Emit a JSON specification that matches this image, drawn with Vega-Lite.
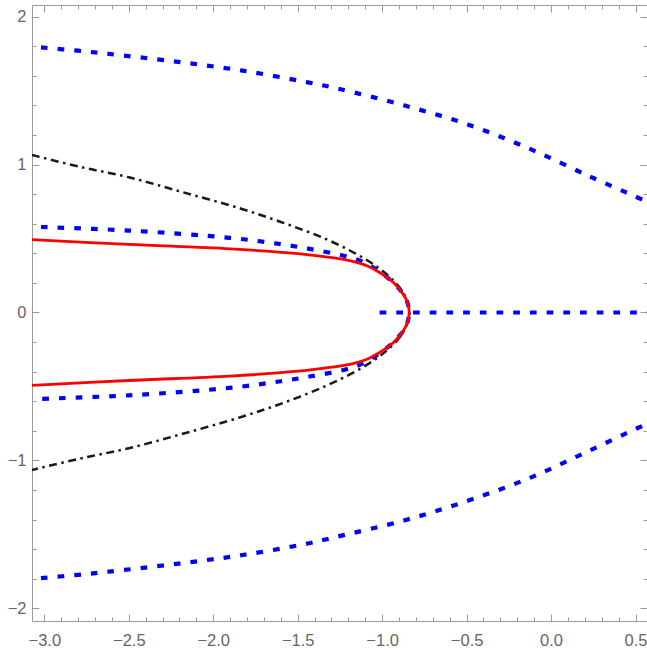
{
  "$schema": "https://vega.github.io/schema/vega-lite/v6.json",
  "width": 615,
  "height": 616,
  "autosize": "none",
  "padding": {"left": 32, "top": 5, "right": 0, "bottom": 29},
  "background": "white",
  "config": {
    "view": {"stroke": "#9a9a9a", "strokeWidth": 1},
    "axis": {"grid": false, "domain": false, "labelFont": "Liberation Sans", "labelFontSize": 16.5, "labelColor": "#666666", "tickColor": "#9a9a9a", "tickWidth": 1, "title": null}
  },
  "datasets": {
    "curves": [
      {"s": "k", "g": "k", "i": 1, "x": -3.073, "y": 1.065},
      {"s": "k", "g": "k", "i": 2, "x": -2.79, "y": 0.985},
      {"s": "k", "g": "k", "i": 3, "x": -2.5, "y": 0.914},
      {"s": "k", "g": "k", "i": 4, "x": -2.18, "y": 0.813},
      {"s": "k", "g": "k", "i": 5, "x": -1.83, "y": 0.7},
      {"s": "k", "g": "k", "i": 6, "x": -1.57, "y": 0.6},
      {"s": "k", "g": "k", "i": 7, "x": -1.34, "y": 0.5},
      {"s": "k", "g": "k", "i": 8, "x": -1.16, "y": 0.4},
      {"s": "k", "g": "k", "i": 9, "x": -1.02, "y": 0.3},
      {"s": "k", "g": "k", "i": 10, "x": -0.92, "y": 0.2},
      {"s": "k", "g": "k", "i": 11, "x": -0.86, "y": 0.1},
      {"s": "k", "g": "k", "i": 12, "x": -0.838, "y": 0},
      {"s": "k", "g": "k", "i": 13, "x": -0.86, "y": -0.1},
      {"s": "k", "g": "k", "i": 14, "x": -0.92, "y": -0.2},
      {"s": "k", "g": "k", "i": 15, "x": -1.02, "y": -0.3},
      {"s": "k", "g": "k", "i": 16, "x": -1.16, "y": -0.4},
      {"s": "k", "g": "k", "i": 17, "x": -1.34, "y": -0.5},
      {"s": "k", "g": "k", "i": 18, "x": -1.57, "y": -0.605},
      {"s": "k", "g": "k", "i": 19, "x": -1.83, "y": -0.705},
      {"s": "k", "g": "k", "i": 20, "x": -2.18, "y": -0.82},
      {"s": "k", "g": "k", "i": 21, "x": -2.5, "y": -0.918},
      {"s": "k", "g": "k", "i": 22, "x": -2.79, "y": -0.988},
      {"s": "k", "g": "k", "i": 23, "x": -3.073, "y": -1.065},

      {"s": "b", "g": "bu", "i": 1, "x": -3.02, "y": 1.792},
      {"s": "b", "g": "bu", "i": 2, "x": -2.8, "y": 1.77},
      {"s": "b", "g": "bu", "i": 3, "x": -2.617, "y": 1.748},
      {"s": "b", "g": "bu", "i": 4, "x": -2.22, "y": 1.696},
      {"s": "b", "g": "bu", "i": 5, "x": -1.826, "y": 1.635},
      {"s": "b", "g": "bu", "i": 6, "x": -1.44, "y": 1.556},
      {"s": "b", "g": "bu", "i": 7, "x": -1.252, "y": 1.511},
      {"s": "b", "g": "bu", "i": 8, "x": -0.866, "y": 1.399},
      {"s": "b", "g": "bu", "i": 9, "x": -0.49, "y": 1.27},
      {"s": "b", "g": "bu", "i": 10, "x": -0.125, "y": 1.106},
      {"s": "b", "g": "bu", "i": 11, "x": 0.231, "y": 0.919},
      {"s": "b", "g": "bu", "i": 12, "x": 0.499, "y": 0.784},
      {"s": "b", "g": "bu", "i": 13, "x": 0.568, "y": 0.749},

      {"s": "b", "g": "bl", "i": 1, "x": -3.02, "y": -1.796},
      {"s": "b", "g": "bl", "i": 2, "x": -2.8, "y": -1.774},
      {"s": "b", "g": "bl", "i": 3, "x": -2.617, "y": -1.752},
      {"s": "b", "g": "bl", "i": 4, "x": -2.22, "y": -1.7},
      {"s": "b", "g": "bl", "i": 5, "x": -1.826, "y": -1.64},
      {"s": "b", "g": "bl", "i": 6, "x": -1.44, "y": -1.562},
      {"s": "b", "g": "bl", "i": 7, "x": -1.267, "y": -1.516},
      {"s": "b", "g": "bl", "i": 8, "x": -0.866, "y": -1.405},
      {"s": "b", "g": "bl", "i": 9, "x": -0.49, "y": -1.272},
      {"s": "b", "g": "bl", "i": 10, "x": -0.125, "y": -1.118},
      {"s": "b", "g": "bl", "i": 11, "x": 0.231, "y": -0.932},
      {"s": "b", "g": "bl", "i": 12, "x": 0.496, "y": -0.79},
      {"s": "b", "g": "bl", "i": 13, "x": 0.568, "y": -0.754},

      {"s": "b", "g": "bi", "i": 1, "x": -3.02, "y": 0.578},
      {"s": "b", "g": "bi", "i": 2, "x": -2.498, "y": 0.554},
      {"s": "b", "g": "bi", "i": 3, "x": -1.905, "y": 0.505},
      {"s": "b", "g": "bi", "i": 4, "x": -1.6, "y": 0.462},
      {"s": "b", "g": "bi", "i": 5, "x": -1.43, "y": 0.43},
      {"s": "b", "g": "bi", "i": 6, "x": -1.233, "y": 0.385},
      {"s": "b", "g": "bi", "i": 7, "x": -1.13, "y": 0.35},
      {"s": "b", "g": "bi", "i": 8, "x": -1.055, "y": 0.306},
      {"s": "b", "g": "bi", "i": 9, "x": -0.984, "y": 0.25},
      {"s": "b", "g": "bi", "i": 10, "x": -0.932, "y": 0.2},
      {"s": "b", "g": "bi", "i": 11, "x": -0.892, "y": 0.15},
      {"s": "b", "g": "bi", "i": 12, "x": -0.863, "y": 0.1},
      {"s": "b", "g": "bi", "i": 13, "x": -0.846, "y": 0.05},
      {"s": "b", "g": "bi", "i": 14, "x": -0.84, "y": 0},
      {"s": "b", "g": "bi", "i": 15, "x": -0.846, "y": -0.05},
      {"s": "b", "g": "bi", "i": 16, "x": -0.863, "y": -0.1},
      {"s": "b", "g": "bi", "i": 17, "x": -0.892, "y": -0.15},
      {"s": "b", "g": "bi", "i": 18, "x": -0.932, "y": -0.2},
      {"s": "b", "g": "bi", "i": 19, "x": -0.984, "y": -0.25},
      {"s": "b", "g": "bi", "i": 20, "x": -1.055, "y": -0.306},
      {"s": "b", "g": "bi", "i": 21, "x": -1.13, "y": -0.352},
      {"s": "b", "g": "bi", "i": 22, "x": -1.233, "y": -0.39},
      {"s": "b", "g": "bi", "i": 23, "x": -1.43, "y": -0.433},
      {"s": "b", "g": "bi", "i": 24, "x": -1.6, "y": -0.465},
      {"s": "b", "g": "bi", "i": 25, "x": -1.905, "y": -0.51},
      {"s": "b", "g": "bi", "i": 26, "x": -2.498, "y": -0.56},
      {"s": "b", "g": "bi", "i": 27, "x": -3.02, "y": -0.584},

      {"s": "b", "g": "bh", "i": 1, "x": -1.015, "y": 0},
      {"s": "b", "g": "bh", "i": 2, "x": 0.568, "y": 0},

      {"s": "r", "g": "r", "i": 1, "x": -3.073, "y": 0.493},
      {"s": "r", "g": "r", "i": 2, "x": -2.5, "y": 0.46},
      {"s": "r", "g": "r", "i": 3, "x": -1.9, "y": 0.43},
      {"s": "r", "g": "r", "i": 4, "x": -1.5, "y": 0.398},
      {"s": "r", "g": "r", "i": 5, "x": -1.31, "y": 0.373},
      {"s": "r", "g": "r", "i": 6, "x": -1.2, "y": 0.353},
      {"s": "r", "g": "r", "i": 7, "x": -1.14, "y": 0.336},
      {"s": "r", "g": "r", "i": 8, "x": -1.08, "y": 0.311},
      {"s": "r", "g": "r", "i": 9, "x": -1.03, "y": 0.281},
      {"s": "r", "g": "r", "i": 10, "x": -0.978, "y": 0.243},
      {"s": "r", "g": "r", "i": 11, "x": -0.93, "y": 0.2},
      {"s": "r", "g": "r", "i": 12, "x": -0.892, "y": 0.15},
      {"s": "r", "g": "r", "i": 13, "x": -0.863, "y": 0.1},
      {"s": "r", "g": "r", "i": 14, "x": -0.846, "y": 0.05},
      {"s": "r", "g": "r", "i": 15, "x": -0.84, "y": 0},
      {"s": "r", "g": "r", "i": 16, "x": -0.846, "y": -0.05},
      {"s": "r", "g": "r", "i": 17, "x": -0.863, "y": -0.1},
      {"s": "r", "g": "r", "i": 18, "x": -0.892, "y": -0.15},
      {"s": "r", "g": "r", "i": 19, "x": -0.93, "y": -0.2},
      {"s": "r", "g": "r", "i": 20, "x": -0.978, "y": -0.243},
      {"s": "r", "g": "r", "i": 21, "x": -1.03, "y": -0.281},
      {"s": "r", "g": "r", "i": 22, "x": -1.08, "y": -0.311},
      {"s": "r", "g": "r", "i": 23, "x": -1.14, "y": -0.336},
      {"s": "r", "g": "r", "i": 24, "x": -1.2, "y": -0.352},
      {"s": "r", "g": "r", "i": 25, "x": -1.31, "y": -0.371},
      {"s": "r", "g": "r", "i": 26, "x": -1.5, "y": -0.397},
      {"s": "r", "g": "r", "i": 27, "x": -1.9, "y": -0.43},
      {"s": "r", "g": "r", "i": 28, "x": -2.5, "y": -0.46},
      {"s": "r", "g": "r", "i": 29, "x": -3.073, "y": -0.493}
    ]
  },
  "data": {"name": "curves"},
  "resolve": {"axis": {"x": "independent", "y": "independent"}},
  "layer": [
    {
      "mark": {"type": "point", "opacity": 0},
      "encoding": {
        "x": {"field": "x", "type": "quantitative", "scale": {"domain": [-3.073, 0.568], "nice": false, "zero": false}, "axis": {"orient": "bottom", "values": [-3, -2.5, -2, -1.5, -1, -0.5, 0, 0.5], "format": ".1f", "ticks": false, "labelPadding": 11}},
        "y": {"field": "y", "type": "quantitative", "scale": {"domain": [-2.086, 2.079], "nice": false, "zero": false}, "axis": {"orient": "left", "values": [-2, -1, 0, 1, 2], "format": "d", "ticks": false, "labelPadding": 6}}
      }
    },
    {
      "mark": {"type": "point", "opacity": 0},
      "encoding": {
        "x": {"field": "x", "type": "quantitative", "axis": {"orient": "bottom", "values": [-3, -2.5, -2, -1.5, -1, -0.5, 0, 0.5], "labels": false, "tickSize": -7}},
        "y": {"field": "y", "type": "quantitative", "axis": {"orient": "left", "values": [-2, -1, 0, 1, 2], "labels": false, "tickSize": -7}}
      }
    },
    {
      "mark": {"type": "point", "opacity": 0},
      "encoding": {
        "x": {"field": "x", "type": "quantitative", "axis": {"orient": "bottom", "values": [-3, -2.9, -2.8, -2.7, -2.6, -2.5, -2.4, -2.3, -2.2, -2.1, -2, -1.9, -1.8, -1.7, -1.6, -1.5, -1.4, -1.3, -1.2, -1.1, -1, -0.9, -0.8, -0.7, -0.6, -0.5, -0.4, -0.3, -0.2, -0.1, 0, 0.1, 0.2, 0.3, 0.4, 0.5], "labels": false, "tickSize": -4}},
        "y": {"field": "y", "type": "quantitative", "axis": {"orient": "left", "values": [-2, -1.8, -1.6, -1.4, -1.2, -1, -0.8, -0.6, -0.4, -0.2, 0, 0.2, 0.4, 0.6, 0.8, 1, 1.2, 1.4, 1.6, 1.8, 2], "labels": false, "tickSize": -4}}
      }
    },
    {
      "mark": {"type": "point", "opacity": 0},
      "encoding": {
        "x": {"field": "x", "type": "quantitative", "axis": {"orient": "top", "values": [-3, -2.5, -2, -1.5, -1, -0.5, 0, 0.5], "labels": false, "tickSize": -7}},
        "y": {"field": "y", "type": "quantitative", "axis": {"orient": "right", "values": [-2, -1, 0, 1, 2], "labels": false, "tickSize": -7}}
      }
    },
    {
      "mark": {"type": "point", "opacity": 0},
      "encoding": {
        "x": {"field": "x", "type": "quantitative", "axis": {"orient": "top", "values": [-3, -2.9, -2.8, -2.7, -2.6, -2.5, -2.4, -2.3, -2.2, -2.1, -2, -1.9, -1.8, -1.7, -1.6, -1.5, -1.4, -1.3, -1.2, -1.1, -1, -0.9, -0.8, -0.7, -0.6, -0.5, -0.4, -0.3, -0.2, -0.1, 0, 0.1, 0.2, 0.3, 0.4, 0.5], "labels": false, "tickSize": -4}},
        "y": {"field": "y", "type": "quantitative", "axis": {"orient": "right", "values": [-2, -1.8, -1.6, -1.4, -1.2, -1, -0.8, -0.6, -0.4, -0.2, 0, 0.2, 0.4, 0.6, 0.8, 1, 1.2, 1.4, 1.6, 1.8, 2], "labels": false, "tickSize": -4}}
      }
    },
    {
      "transform": [{"filter": "datum.s === 'k'"}],
      "mark": {"type": "line", "color": "#1a1a1a", "strokeWidth": 2.5, "strokeDash": [8, 4.5, 2.5, 4.5], "interpolate": "catmull-rom", "clip": true},
      "encoding": {
        "x": {"field": "x", "type": "quantitative", "axis": null},
        "y": {"field": "y", "type": "quantitative", "axis": null},
        "detail": {"field": "g"},
        "order": {"field": "i", "type": "quantitative"}
      }
    },
    {
      "transform": [{"filter": "datum.s === 'b'"}],
      "mark": {"type": "line", "color": "#0000ff", "strokeWidth": 4.2, "strokeDash": [6.7, 10], "interpolate": "catmull-rom", "clip": true},
      "encoding": {
        "x": {"field": "x", "type": "quantitative", "axis": null},
        "y": {"field": "y", "type": "quantitative", "axis": null},
        "detail": {"field": "g"},
        "order": {"field": "i", "type": "quantitative"}
      }
    },
    {
      "transform": [{"filter": "datum.s === 'r'"}],
      "mark": {"type": "line", "color": "#ff0000", "strokeWidth": 2.8, "interpolate": "catmull-rom", "clip": true},
      "encoding": {
        "x": {"field": "x", "type": "quantitative", "axis": null},
        "y": {"field": "y", "type": "quantitative", "axis": null},
        "detail": {"field": "g"},
        "order": {"field": "i", "type": "quantitative"}
      }
    }
  ]
}
